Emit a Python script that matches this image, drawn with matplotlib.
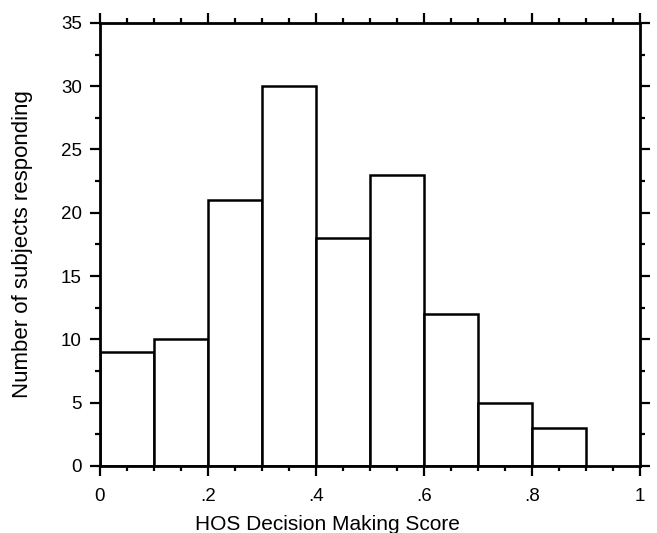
import matplotlib
matplotlib.use('Agg')
import matplotlib.pyplot as plt
from matplotlib.ticker import MultipleLocator

# histogram of HOS decision making scores
bin_edges = [0.0, 0.1, 0.2, 0.3, 0.4, 0.5, 0.6, 0.7, 0.8, 0.9]
counts = [9, 10, 21, 30, 18, 23, 12, 5, 3]
x_ticks = [0, 0.2, 0.4, 0.6, 0.8, 1.0]
x_ticklabels = ['0', '.2', '.4', '.6', '.8', '1']
y_ticks = [0, 5, 10, 15, 20, 25, 30, 35]

plt.rcParams['font.family'] = ['Liberation Sans', 'DejaVu Sans']

fig = plt.figure(figsize=(6.57, 5.33), dpi=100)
ax = fig.add_axes([0.152, 0.126, 0.822, 0.831])

ax.bar(bin_edges[:-1], counts, width=0.1, align='edge',
       facecolor='white', edgecolor='black', linewidth=1.8)

ax.set_xlim(0, 1)
ax.set_ylim(0, 35)
ax.set_xticks(x_ticks)
ax.set_xticklabels(x_ticklabels)
ax.set_yticks(y_ticks)
ax.xaxis.set_minor_locator(MultipleLocator(0.05))
ax.yaxis.set_minor_locator(MultipleLocator(2.5))

ax.tick_params(which='both', direction='out', top=True, right=True,
               width=1.6, labelsize=13.5, colors='black')
ax.tick_params(which='major', length=7, pad=6)
ax.tick_params(axis='x', which='major', pad=9)
ax.tick_params(which='minor', length=3.5)
for s in ax.spines.values():
    s.set_linewidth(2)

ax.set_xlabel('HOS Decision Making Score', fontsize=15)
ax.set_ylabel('Number of subjects responding', fontsize=16)
ax.xaxis.set_label_coords(0.422, -0.11)
ax.yaxis.set_label_coords(-0.123, 0.5)

fig.savefig('out.png', dpi=100)
